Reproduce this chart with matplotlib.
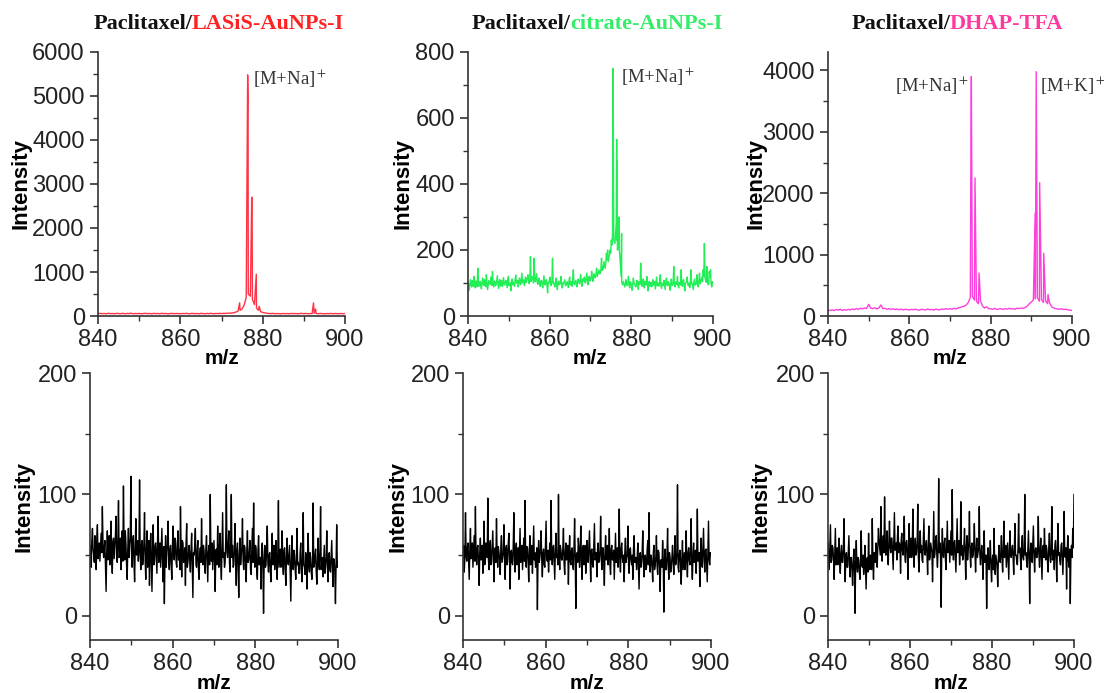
import numpy as np
import matplotlib
matplotlib.use("Agg")
import matplotlib.pyplot as plt
from matplotlib.ticker import MultipleLocator

plt.rcParams['font.family'] = ['Liberation Sans', 'DejaVu Sans']
plt.rcParams['mathtext.fontset'] = 'stix'

# --- top row: baseline on a regular m/z grid + discrete peaks ---
red_base = [55, 60, 52, 58, 50, 62, 54, 57, 51, 60, 56, 53, 61, 50, 58, 55, 63, 52, 57, 54,
            59, 51, 56, 62, 53, 58, 50, 60, 55, 57, 52, 61, 54, 58, 50, 56, 60, 53, 57, 55,
            52, 58, 54, 61, 50, 56, 59, 53, 57, 51, 60, 55, 52, 58, 54, 62, 51, 57, 55, 59,
            56, 60, 58, 65, 62, 70, 75, 90,
            110, 130, 160, 250, 420, 500, 450, 380, 260, 180, 130, 100,
            80, 70, 62, 58, 55, 60, 52, 57, 54, 50, 58, 53, 56, 51, 59, 54, 57, 52, 55, 60,
            53, 58, 51, 56, 54, 62, 57, 52, 58, 55, 50, 56, 53, 59, 51, 57, 54, 52, 58, 50, 55]
red_peak_mz = [874.4, 876.35, 876.45, 877.35, 877.45, 878.45, 879.15, 892.35, 892.85]
red_peak_int = [300, 5480, 4980, 2700, 1950, 950, 220, 300, 160]

green_base = [95, 100, 78, 92, 110, 96, 88, 108, 102, 90, 120, 98, 85, 106, 98, 88, 145, 102, 90, 95,
              105, 90, 82, 104, 115, 96, 92, 110, 100, 88, 125, 100, 80, 94, 108, 102, 95, 108, 118, 92,
              135, 98, 88, 106, 104, 92, 96, 110, 122, 96, 84, 104, 110, 90, 99, 108, 90, 100, 116, 94,
              94, 104, 108, 96, 86, 110, 120, 92, 98, 100, 76, 106, 112, 94, 102, 98, 90, 112, 124, 100,
              100, 108, 88, 98, 115, 104, 95, 112, 130, 100, 105, 110, 92, 106, 118, 102, 110, 115, 125, 104,
              98, 110, 180, 105, 112, 118, 120, 100, 175, 112, 104, 116, 128, 102, 96, 110, 115, 98, 90, 106,
              108, 98, 85, 104, 122, 96, 94, 108, 110, 92, 70, 102, 100, 110, 118, 95, 92, 104, 175, 100,
              102, 94, 88, 100, 115, 92, 80, 102, 105, 96, 96, 106, 120, 90, 85, 100, 98, 104, 110, 92,
              92, 100, 104, 96, 86, 108, 118, 94, 100, 104, 90, 110, 140, 98, 95, 102, 108, 96, 88, 106,
              112, 104, 98, 110, 125, 100, 90, 112, 106, 106, 118, 102, 100, 114, 130, 108, 95, 110, 120, 106,
              110, 116, 135, 112, 105, 122, 128, 115, 118, 126, 145, 120, 125, 132, 140, 128, 130, 140, 175, 138,
              150, 142, 165, 155, 145, 160, 190, 170, 200, 165, 175, 185, 200, 190, 230, 215, 250, 240, 230, 225,
              220, 250, 280, 230, 200, 210, 240, 200, 180, 150, 120, 105, 95, 100, 105, 92, 88, 98, 110, 96,
              92, 100, 120, 94, 85, 104, 100, 90, 78, 98, 115, 102, 95, 92, 88, 100, 108, 95, 80, 104,
              102, 96, 160, 104, 90, 100, 112, 92, 85, 106, 98, 94, 120, 100, 76, 98, 105, 90, 92, 102,
              88, 98, 110, 94, 95, 104, 82, 100, 118, 92, 100, 96, 90, 106, 125, 94, 84, 100, 96, 92,
              108, 94, 80, 100, 115, 96, 92, 104, 100, 90, 78, 98, 112, 92, 95, 102, 150, 96, 88, 100,
              104, 96, 120, 92, 85, 102, 98, 94, 140, 100, 90, 106, 110, 90, 76, 98, 102, 104, 118, 94,
              92, 100, 86, 96, 140, 98, 100, 90, 80, 104, 112, 94, 95, 100, 125, 92, 88, 106, 130, 98,
              105, 110, 118, 104, 140, 120, 220, 115, 110, 102, 150, 112, 95, 98, 135, 118, 140, 96, 88, 104,
              100]
green_peak_mz = [875.5, 875.58, 876.42, 876.52, 877.02, 877.62]
green_peak_int = [750, 655, 535, 470, 300, 250]

pink_base = [95, 90, 100, 88, 105, 98, 110, 92, 102, 96, 108, 100, 115, 105, 120, 110, 125, 118, 130, 122,
             190, 128, 120, 135, 115, 130, 180, 118, 125, 112, 120, 108, 118, 105, 115, 102, 112, 100, 110, 105,
             98, 108, 102, 112, 100, 95, 110, 104, 98, 115, 102, 108, 96, 112, 105, 100, 115, 108, 120, 112,
             118, 110, 125, 115, 130, 140, 150, 160, 180, 220,
             300, 320, 260, 240, 200, 250, 160, 130, 150, 120,
             118, 110, 125, 105, 115, 120, 108, 118, 112, 125, 115, 120, 110, 128, 120, 130, 125, 140, 160, 200,
             230, 260, 280, 300, 240, 270, 220, 250, 200, 210,
             150, 130, 120, 115, 110, 118, 105, 112, 100, 95,
             90]
pink_peak_mz = [875.15, 875.25, 876.15, 876.25, 877.15, 890.95, 891.2, 892.05, 892.2, 893.05, 894.1]
pink_peak_int = [2820, 3900, 2250, 1680, 700, 1680, 3980, 2170, 1520, 1020, 350]

# --- bottom row: matrix-only noise, 0.15 m/z step ---
noise_lasis = [58, 48, 40, 62, 72, 55, 50, 44, 66, 58, 38, 63, 75, 47, 52, 60, 45, 57, 68, 52,
               90, 60, 48, 54, 62, 40, 20, 52, 70, 46, 55, 66, 42, 58, 78, 50, 35, 61, 64, 47,
               56, 66, 82, 50, 44, 62, 95, 48, 50, 64, 38, 56, 70, 45, 107, 58, 46, 70, 60, 42,
               30, 55, 72, 48, 58, 64, 115, 52, 40, 60, 66, 44, 28, 58, 80, 50, 52, 62, 45, 56,
               112, 50, 38, 58, 62, 42, 48, 60, 85, 46, 30, 54, 70, 40, 55, 62, 25, 52, 68, 45,
               20, 56, 75, 42, 45, 58, 60, 48, 35, 62, 82, 44, 50, 60, 40, 55, 72, 46, 28, 57,
               10, 48, 66, 40, 52, 60, 78, 45, 38, 55, 58, 42, 30, 57, 74, 50, 46, 64, 62, 44,
               40, 58, 70, 46, 54, 38, 90, 55, 32, 62, 60, 44, 48, 56, 25, 60, 76, 40, 44, 52,
               58, 45, 36, 55, 68, 40, 15, 52, 50, 58, 72, 42, 40, 54, 62, 38, 30, 50, 56, 44,
               80, 50, 42, 58, 54, 40, 35, 56, 66, 46, 28, 52, 58, 42, 100, 55, 45, 60, 38, 50,
               62, 46, 20, 54, 55, 42, 74, 50, 40, 58, 68, 44, 30, 56, 85, 48, 52, 40, 44, 62,
               108, 52, 48, 58, 70, 44, 36, 62, 100, 48, 58, 40, 42, 57, 76, 46, 25, 54, 60, 42,
               15, 50, 64, 42, 50, 56, 80, 46, 38, 58, 56, 40, 28, 54, 70, 44, 46, 52, 62, 38,
               34, 52, 72, 44, 93, 50, 40, 58, 55, 38, 30, 54, 66, 42, 48, 48, 22, 56, 60, 40,
               2, 46, 58, 40, 42, 55, 74, 44, 36, 50, 52, 36, 28, 52, 68, 42, 45, 58, 38, 47,
               62, 44, 30, 52, 95, 40, 48, 55, 40, 48, 70, 42, 34, 54, 56, 38, 25, 50, 64, 45,
               42, 50, 58, 36, 12, 46, 66, 40, 38, 54, 50, 38, 30, 48, 72, 42, 44, 35, 35, 52,
               60, 38, 28, 48, 85, 42, 40, 34, 52, 46, 22, 50, 68, 40, 36, 52, 48, 36, 30, 45,
               93, 40, 42, 50, 55, 36, 26, 46, 64, 42, 38, 52, 90, 38, 45, 48, 32, 44, 58, 35,
               40, 48, 70, 42, 28, 46, 52, 38, 36, 50, 62, 40, 24, 47, 46, 36, 10, 44, 75, 40,
               44]
noise_citrate = [52, 58, 36, 48, 85, 50, 45, 56, 60, 44, 30, 55, 72, 47, 48, 60, 40, 52, 66, 45,
                 90, 50, 42, 56, 58, 44, 25, 52, 64, 46, 50, 58, 35, 54, 78, 42, 46, 60, 55, 48,
                 97, 46, 38, 55, 62, 42, 44, 58, 70, 48, 28, 54, 56, 44, 80, 50, 40, 57, 52, 46,
                 34, 56, 66, 44, 48, 52, 75, 46, 30, 55, 58, 42, 45, 60, 68, 48, 22, 52, 54, 44,
                 42, 58, 85, 46, 36, 54, 60, 42, 48, 56, 30, 50, 72, 44, 50, 58, 38, 52, 64, 45,
                 95, 50, 40, 57, 56, 45, 28, 54, 66, 42, 46, 58, 35, 55, 74, 46, 52, 40, 44, 56,
                 5, 48, 62, 44, 48, 56, 70, 46, 32, 52, 55, 42, 40, 58, 78, 48, 45, 54, 36, 50,
                 60, 46, 95, 52, 42, 56, 58, 44, 30, 55, 68, 48, 50, 42, 100, 50, 38, 58, 54, 46,
                 46, 55, 72, 44, 34, 52, 60, 46, 48, 58, 26, 50, 66, 45, 42, 54, 56, 42, 38, 56,
                 80, 48, 6, 50, 52, 44, 64, 56, 40, 52, 74, 45, 30, 55, 58, 42, 46, 58, 35, 50,
                 62, 45, 44, 56, 70, 48, 28, 54, 55, 42, 40, 58, 76, 46, 48, 52, 32, 55, 60, 44,
                 45, 54, 82, 48, 38, 56, 56, 44, 25, 52, 66, 46, 50, 58, 42, 50, 72, 42, 34, 55,
                 58, 46, 46, 54, 30, 50, 68, 44, 52, 56, 40, 52, 88, 45, 36, 55, 60, 48, 44, 50,
                 28, 52, 64, 44, 48, 50, 74, 42, 35, 54, 56, 46, 42, 50, 30, 55, 66, 44, 45, 48,
                 38, 48, 60, 42, 22, 50, 52, 40, 44, 52, 70, 44, 32, 48, 50, 38, 40, 54, 62, 42,
                 85, 44, 36, 50, 48, 40, 28, 52, 58, 38, 42, 48, 66, 42, 34, 54, 52, 40, 20, 46,
                 46, 40, 62, 46, 3, 44, 55, 38, 38, 50, 72, 42, 30, 52, 48, 36, 40, 48, 58, 44,
                 34, 48, 66, 42, 44, 52, 108, 40, 36, 50, 54, 44, 26, 46, 62, 38, 45, 52, 38, 46,
                 70, 44, 32, 52, 56, 46, 42, 55, 80, 42, 30, 50, 60, 44, 46, 54, 35, 50, 88, 45,
                 48, 52, 24, 50, 64, 44, 40, 56, 72, 46, 36, 54, 55, 42, 28, 55, 78, 46, 42, 52,
                 50]
noise_dhap = [60, 48, 38, 55, 75, 44, 46, 58, 56, 46, 30, 52, 72, 42, 50, 56, 42, 50, 64, 45,
              35, 52, 58, 44, 44, 56, 80, 46, 28, 50, 52, 40, 40, 54, 66, 42, 32, 48, 48, 38,
              25, 44, 55, 38, 2, 46, 62, 40, 36, 48, 46, 36, 30, 45, 70, 42, 40, 50, 34, 44,
              58, 40, 22, 46, 48, 36, 68, 44, 38, 50, 44, 38, 80, 46, 30, 52, 52, 44, 60, 56,
              40, 55, 72, 62, 56, 50, 90, 60, 45, 58, 66, 52, 98, 64, 50, 56, 70, 48, 42, 62,
              78, 56, 52, 64, 64, 50, 38, 62, 85, 54, 56, 60, 46, 66, 74, 52, 60, 58, 35, 62,
              68, 54, 50, 62, 82, 50, 44, 60, 62, 52, 30, 58, 76, 48, 55, 64, 48, 56, 88, 50,
              40, 58, 64, 50, 52, 60, 92, 48, 36, 56, 70, 52, 58, 46, 44, 62, 80, 54, 50, 57,
              62, 50, 34, 58, 74, 46, 48, 60, 56, 52, 28, 56, 86, 48, 52, 62, 66, 50, 40, 55,
              113, 52, 60, 48, 7, 56, 72, 50, 48, 60, 64, 46, 38, 58, 78, 52, 54, 62, 44, 56,
              70, 50, 104, 56, 46, 60, 62, 48, 36, 58, 80, 52, 56, 62, 42, 54, 94, 50, 58, 46,
              48, 58, 72, 50, 30, 56, 66, 46, 54, 60, 86, 52, 40, 56, 60, 48, 50, 58, 76, 52,
              36, 54, 64, 48, 52, 56, 90, 50, 42, 52, 58, 46, 30, 55, 70, 44, 46, 50, 6, 42,
              56, 44, 38, 48, 62, 40, 28, 46, 50, 38, 72, 44, 34, 50, 46, 42, 24, 46, 58, 48,
              44, 52, 66, 46, 36, 55, 78, 48, 52, 58, 40, 50, 60, 44, 30, 56, 70, 50, 48, 54,
              58, 48, 34, 56, 76, 50, 50, 44, 42, 56, 84, 52, 56, 46, 38, 58, 66, 48, 46, 55,
              100, 50, 52, 44, 40, 56, 70, 48, 10, 52, 60, 46, 44, 58, 74, 50, 36, 54, 56, 48,
              48, 56, 82, 50, 40, 54, 64, 46, 30, 55, 58, 48, 72, 52, 46, 58, 54, 44, 36, 56,
              68, 50, 44, 56, 90, 46, 50, 54, 38, 58, 62, 48, 28, 55, 76, 50, 52, 46, 42, 58,
              60, 48, 34, 54, 86, 50, 48, 56, 22, 52, 66, 46, 40, 55, 10, 50, 58, 48, 72, 56,
              100]

titles = [("LASiS-AuNPs-I", '#ff2222'), ("citrate-AuNPs-I", '#33ee66'), ("DHAP-TFA", '#ff3a9e')]
line_colors = ['#ff3344', '#22ee55', '#ff3fdd']


def spectrum(base, peak_mz, peak_int):
    mz = np.concatenate([np.linspace(840, 900, len(base)), peak_mz])
    y = np.concatenate([base, peak_int])
    order = np.argsort(mz)
    return mz[order], y[order]


def style(ax, ylim, ystep, ylab_x, xlab_y):
    ax.set_xlim(840, 900)
    ax.set_ylim(*ylim)
    ax.xaxis.set_major_locator(MultipleLocator(20))
    ax.xaxis.set_minor_locator(MultipleLocator(10))
    ax.yaxis.set_major_locator(MultipleLocator(ystep))
    ax.yaxis.set_minor_locator(MultipleLocator(ystep / 2))
    for s in ('top', 'right'):
        ax.spines[s].set_visible(False)
    for s in ('left', 'bottom'):
        ax.spines[s].set_linewidth(1.2)
        ax.spines[s].set_color('#333333')
    ax.tick_params(which='major', direction='out', length=6, width=1.2,
                   labelsize=17, color='#333333', labelcolor='#222222')
    ax.tick_params(which='minor', direction='out', length=3.5, width=1.0, color='#333333')
    ax.set_xlabel('m/z', fontsize=15, fontweight='bold')
    ax.set_ylabel('Intensity', fontsize=16, fontweight='bold')
    ax.yaxis.set_label_coords(ylab_x, 0.5)
    ax.xaxis.set_label_coords(0.5, xlab_y)


fig = plt.figure(figsize=(11.04, 6.93), dpi=100)

top_pos = [[0.0888, 0.544, 0.2237, 0.381],
           [0.4239, 0.544, 0.2219, 0.381],
           [0.7500, 0.544, 0.2210, 0.381]]
bot_pos = [[0.0815, 0.0765, 0.2246, 0.385],
           [0.4194, 0.0765, 0.2246, 0.385],
           [0.7500, 0.0765, 0.2228, 0.385]]

top_data = [(red_base, red_peak_mz, red_peak_int),
            (green_base, green_peak_mz, green_peak_int),
            (pink_base, pink_peak_mz, pink_peak_int)]
top_ylim = [(0, 6000), (0, 800), (0, 4300)]
top_step = [1000, 200, 1000]
top_ylab = [-0.268, -0.223, -0.251]
top_lw = [1.0, 1.0, 1.0]

for i in range(3):
    ax = fig.add_axes(top_pos[i])
    mz, y = spectrum(*top_data[i])
    ax.plot(mz, y, color=line_colors[i], lw=top_lw[i])
    style(ax, top_ylim[i], top_step[i], top_ylab[i], -0.125)
    if i == 0:
        ax.text(877.6, 5400, r'[M+Na]$^+$', family='Liberation Serif', fontsize=13.5,
                color='#333333', ha='left', va='center')
    elif i == 1:
        ax.text(877.4, 725, r'[M+Na]$^+$', family='Liberation Serif', fontsize=13.5,
                color='#333333', ha='left', va='center')
    else:
        ax.text(874.8, 3750, r'[M+Na]$^+$', family='Liberation Serif', fontsize=13.5,
                color='#333333', ha='right', va='center')
        ax.text(892.2, 3750, r'[M+K]$^+$', family='Liberation Serif', fontsize=13.5,
                color='#333333', ha='left', va='center')

noise_sets = [noise_lasis, noise_citrate, noise_dhap]
bot_ylab = [-0.222, -0.221, -0.229]
for i in range(3):
    ax = fig.add_axes(bot_pos[i])
    vals = noise_sets[i]
    ax.plot(np.linspace(840, 900, len(vals)), vals, color='black', lw=1.0)
    style(ax, (-20, 200), 100, bot_ylab[i], -0.128)

# two-colour titles, split at the slash
split_x = [0.1739, 0.5163, 0.8605]
for i in range(3):
    fig.text(split_x[i], 0.965, 'Paclitaxel/', family='Liberation Serif', fontweight='bold',
             fontsize=16, color='#111111', ha='right', va='center')
    fig.text(split_x[i], 0.965, titles[i][0], family='Liberation Serif', fontweight='bold',
             fontsize=16, color=titles[i][1], ha='left', va='center')

fig.savefig('out.png', dpi=100)
